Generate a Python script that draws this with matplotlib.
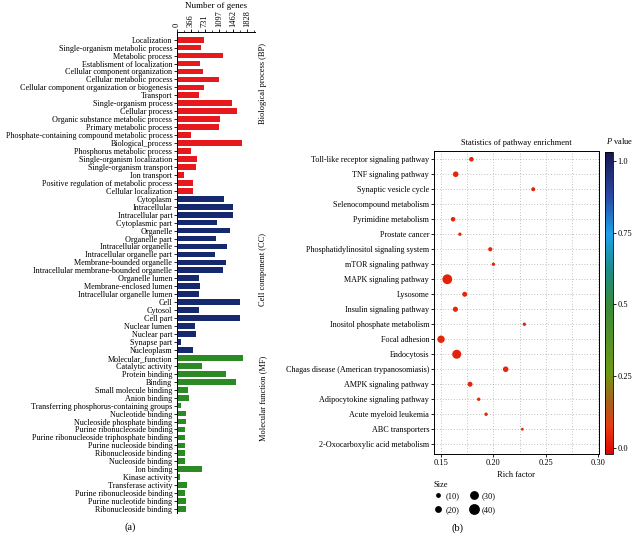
import numpy as np
import matplotlib
matplotlib.use("Agg")
import matplotlib.pyplot as plt
from matplotlib.colors import LinearSegmentedColormap, Normalize
from matplotlib.cm import ScalarMappable
from matplotlib.lines import Line2D
from matplotlib.ticker import MultipleLocator, FixedLocator

plt.rcParams['font.family'] = 'Liberation Serif'
plt.rcParams['mathtext.fontset'] = 'custom'
plt.rcParams['mathtext.rm'] = 'Liberation Serif'
plt.rcParams['mathtext.it'] = 'Liberation Serif:italic'

# ---- panel (a): GO terms ----
bp_terms = ["Localization", "Single-organism metabolic process", "Metabolic process",
            "Establisment of localization", "Cellular component organization",
            "Cellular metabolic process", "Cellular component organization or biogenesis",
            "Transport", "Single-organism process", "Cellular process",
            "Organic substance metabolic process", "Primary metabolic process",
            "Phosphate-containing compound metabolic process", "Biological_process",
            "Phosphorus metabolic process", "Single-organism localization",
            "Single-organism transport", "Ion transport",
            "Positive regulation of metabolic process", "Cellular localization"]
bp_counts = [712, 627, 1195, 601, 697, 1091, 722, 575, 1435, 1574,
             1125, 1091, 387, 1685, 387, 532, 516, 206, 439, 439]

cc_terms = ["Cytoplasm", "Intracellular", "Intracellular part", "Cytoplasmic part",
            "Organelle", "Organelle part", "Intracellular organelle",
            "Intracellular organelle part", "Membrane-bounded organelle",
            "Intracellular membrane-bounded organelle", "Organelle lumen",
            "Membrane-enclosed lumen", "Intracellular organelle lumen", "Cell",
            "Cytosol", "Cell part", "Nuclear lumen", "Nuclear part", "Synapse part",
            "Nucleoplasm"]
cc_counts = [1229, 1470, 1470, 1058, 1376, 1022, 1306, 1006, 1290, 1203,
             593, 601, 584, 1651, 584, 1642, 490, 516, 129, 421]

mf_terms = ["Molecular_function", "Catalytic activity", "Protein binding", "Binding",
            "Small molecule binding", "Anion binding",
            "Transferring phosphorus-containing groups", "Nucleotide binding",
            "Nucleoside phosphate binding", "Purine ribonucleoside binding",
            "Purine ribonucleoside triphosphate binding", "Purine nucleoside binding",
            "Ribonucleoside binding", "Nucleoside binding", "Ion binding",
            "Kinase activity", "Transferase activity", "Purine ribonucleoside binding",
            "Purine nucleotide binding", "Ribonucleoside binding"]
mf_counts = [1711, 662, 1273, 1539, 310, 335, 129, 258, 258, 223,
             223, 223, 223, 223, 662, 103, 275, 223, 240, 240]

gene_ticks = [0, 366, 731, 1097, 1462, 1828]

# ---- panel (b): KEGG enrichment ----
pathways = ["Toll-like receptor signaling pathway", "TNF signaling pathway",
            "Synaptic vesicle cycle", "Selenocompound metabolism",
            "Pyrimidine metabolism", "Prostate cancer",
            "Phosphatidylinositol signaling system", "mTOR signaling pathway",
            "MAPK signaling pathway", "Lysosome", "Insulin signaling pathway",
            "Inositol phosphate metabolism", "Focal adhesion", "Endocytosis",
            "Chagas disease (American trypanosomiasis)", "AMPK signaling pathway",
            "Adipocytokine signaling pathway", "Acute myeloid leukemia",
            "ABC transporters", "2-Oxocarboxylic acid metabolism"]
rich_factor = [0.179, 0.164, 0.238, np.nan, 0.1615, 0.168, 0.197, 0.200, 0.156, 0.1726,
               0.1637, 0.2295, 0.150, 0.165, 0.2117, 0.1777, 0.186, 0.193, 0.2276, np.nan]
gene_num = [16, 21, 13, np.nan, 16, 10, 14, 10, 42, 18,
            19, 10, 30, 38, 21, 18, 10, 10, 7, np.nan]
p_value = [0.04, 0.04, 0.03, np.nan, 0.04, 0.04, 0.04, 0.04, 0.03, 0.04,
           0.04, 0.04, 0.04, 0.03, 0.04, 0.04, 0.04, 0.04, 0.04, np.nan]
size_levels = [10, 20, 30, 40]

W, H = 635, 534


def dot_area(n):
    # diameter in pixels grows roughly linearly with gene count
    d = 1.4 + 0.2 * np.asarray(n, dtype=float)
    return (d * 0.72) ** 2


fig = plt.figure(figsize=(W / 100, H / 100), dpi=100)

# ---------------- panel (a) ----------------
terms = bp_terms + cc_terms + mf_terms
counts = bp_counts + cc_counts + mf_counts
colors = (['#e8191c'] * len(bp_terms) + ['#16296e'] * len(cc_terms)
          + ['#2b8a24'] * len(mf_terms))

ax1 = fig.add_axes([176.5 / W, 1 - 513 / H, 78.5 / W, (513 - 31.7) / H])
ypos = np.arange(len(terms))
ax1.barh(ypos, counts, height=0.72, color=colors)
ax1.set_ylim(len(terms) - 0.5, -1.0)
ax1.set_xlim(0, 2030)
ax1.set_yticks(ypos)
ax1.set_yticklabels(terms, fontsize=5.9)
ax1.xaxis.tick_top()
ax1.set_xticks(gene_ticks)
ax1.set_xticklabels([str(t) for t in gene_ticks], rotation=90, fontsize=6)
ax1.xaxis.set_minor_locator(FixedLocator(np.arange(0, 2030, 182.8)))
ax1.tick_params(axis='y', length=2, width=0.6, pad=1)
ax1.tick_params(axis='x', which='major', length=2.5, width=0.6, pad=1)
ax1.tick_params(axis='x', which='minor', length=1.5, width=0.5)
for s in ['right', 'bottom']:
    ax1.spines[s].set_visible(False)
for s in ['left', 'top']:
    ax1.spines[s].set_linewidth(0.7)

fig.text(216 / W, 1 - 6 / H, 'Number of genes', ha='center', va='center', fontsize=6.5)
fig.text(263 / W, 1 - 83 / H, 'Biological process (BP)', rotation=90,
         ha='center', va='center', fontsize=6)
fig.text(263 / W, 1 - 270 / H, 'Cell component (CC)', rotation=90,
         ha='center', va='center', fontsize=6)
fig.text(263 / W, 1 - 398 / H, 'Molecular function (MF)', rotation=90,
         ha='center', va='center', fontsize=6)
fig.text(130 / W, 1 - 527 / H, '(a)', ha='center', va='center', fontsize=7.5)

# ---------------- panel (b) ----------------
cmap = LinearSegmentedColormap.from_list('pv', [
    (0.00, '#e00600'), (0.09, '#e63c12'), (0.17, '#a8601a'), (0.27, '#6e9a12'),
    (0.49, '#3a8a3a'), (0.61, '#1a8e8a'), (0.73, '#1fa0ec'), (0.85, '#2a4aa8'),
    (1.00, '#161850')])
norm = Normalize(vmin=-0.02, vmax=1.03)

ax2 = fig.add_axes([434 / W, 1 - 454 / H, 164.5 / W, 303 / H])
rows = np.arange(len(pathways))
ax2.scatter(rich_factor, rows, s=dot_area(gene_num), c=p_value, cmap=cmap, norm=norm,
            edgecolors='none', zorder=3)
ax2.set_xlim(0.1433, 0.3003)
ax2.set_ylim(len(pathways) - 0.35, -0.55)
ax2.set_yticks(rows)
ax2.set_yticklabels(pathways, fontsize=5.9)
ax2.set_xticks([0.15, 0.20, 0.25, 0.30])
ax2.set_xticklabels(['0.15', '0.20', '0.25', '0.30'], fontsize=6)
ax2.xaxis.set_minor_locator(MultipleLocator(0.025))
ax2.tick_params(which='major', length=2, width=0.6, pad=1.5)
ax2.tick_params(which='minor', length=0)
ax2.grid(which='both', axis='x', ls=(0, (1, 3)), color='#888888', lw=0.5)
ax2.grid(which='major', axis='y', ls=(0, (1, 3)), color='#888888', lw=0.5)
ax2.set_axisbelow(True)
for s in ax2.spines.values():
    s.set_linewidth(0.7)
ax2.set_xlabel('Rich factor', fontsize=6, labelpad=3)
ax2.set_title('Statistics of pathway enrichment', fontsize=6, pad=4)

cax = fig.add_axes([605 / W, 1 - 454 / H, 8 / W, 302 / H])
cb = fig.colorbar(ScalarMappable(norm=norm, cmap=cmap), cax=cax)
cb.set_ticks([0.0, 0.25, 0.5, 0.75, 1.0])
cb.set_ticklabels(['0.0', '0.25', '0.5', '0.75', '1.0'])
cb.ax.tick_params(labelsize=6, length=2, width=0.6, pad=1)
cb.outline.set_linewidth(0.6)
fig.text(620 / W, 1 - 141 / H, r'$P$ value', ha='center', va='center', fontsize=6)

# size legend
fig.text(433 / W, 1 - 485 / H, 'Size', ha='left', va='center', fontsize=6)
handles = [Line2D([], [], ls='', marker='o', color='black',
                  markersize=np.sqrt(dot_area(n))) for n in size_levels]
leg = fig.legend(handles, ['(%d)' % n for n in size_levels], ncol=2,
                 loc='upper left', bbox_to_anchor=(430 / W, 1 - 488 / H),
                 frameon=False, fontsize=6, handletextpad=0.4,
                 columnspacing=1.2, labelspacing=0.75, borderpad=0, handlelength=1.0)

fig.text(457 / W, 1 - 528 / H, '(b)', ha='center', va='center', fontsize=7.5)

fig.savefig('out.png', dpi=100)
